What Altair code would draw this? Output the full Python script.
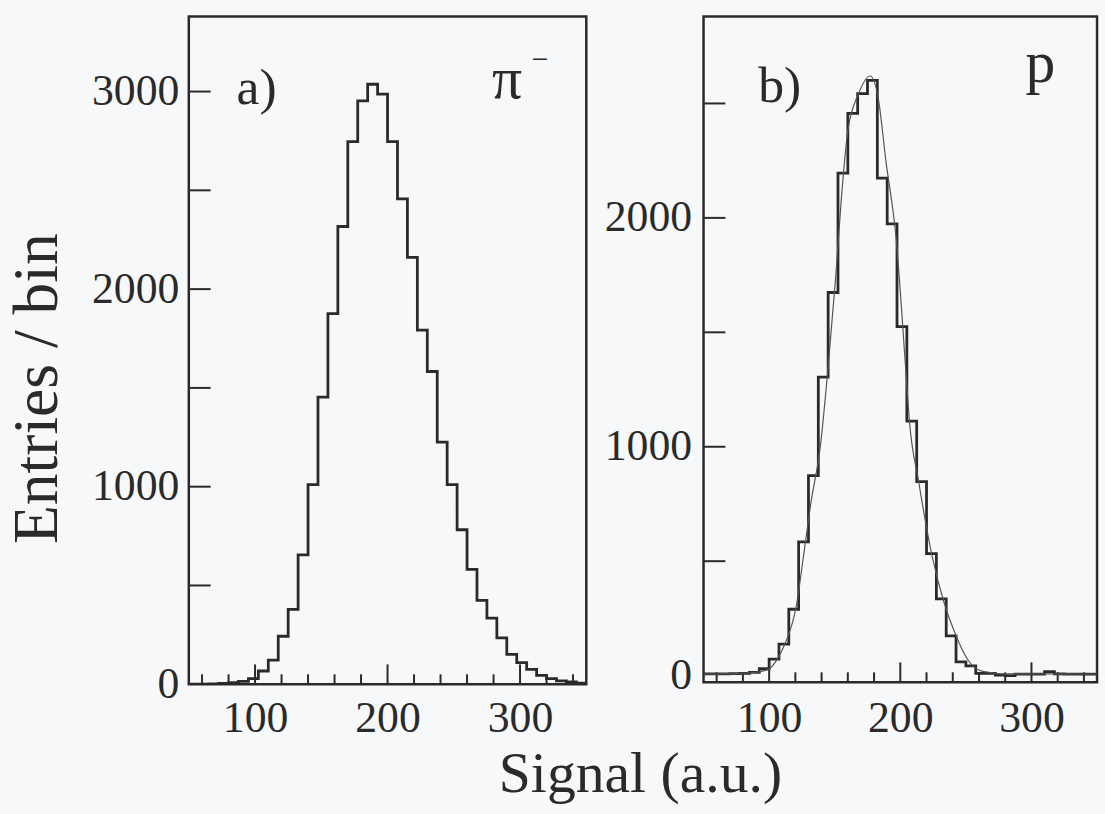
import altair as alt
import pandas as pd

# ---------------- data ----------------
bin_width = 7.5

# panel a) pi-  : bins start at 50
pi_bin_start = 50.0
pi_counts = [0, 1, 2, 4, 8, 15, 28, 67, 122, 243, 379, 655, 1010, 1453, 1876,
             2317, 2747, 2953, 3037, 2987, 2747, 2457, 2161, 1792, 1583, 1225,
             1010, 782, 581, 424, 335, 235, 151, 109, 75, 45, 29, 17, 12, 6]

# panel b) p : bins start at 47.5
p_bin_start = 47.5
p_counts = [8, 8, 8, 9, 10, 14, 30, 72, 138, 290, 584, 874, 1304, 1674, 2196,
            2457, 2543, 2601, 2174, 1974, 1525, 1112, 848, 533, 335, 174, 60,
            43, 10, 10, 2, 0, 7, 7, 7, 17, 8, 7, 7, 7, 7]

# fitted curve in panel b) (points read off the picture)
fit_x = [50, 70, 85, 95, 100, 106, 112, 121, 126, 132, 139, 145, 151, 155,
         160, 168, 177, 183, 189, 197, 204, 207, 214, 224, 233, 242, 252, 262,
         280, 350]
fit_y = [7, 8, 12, 20, 29, 70, 138, 313, 514, 760, 1000, 1350, 1760, 2080,
         2380, 2540, 2620, 2530, 2250, 1900, 1350, 1110, 848, 529, 326, 181,
         65, 20, 8, 7]

x_domain = [50, 350]
y_domain_a = [0, 3380]
y_domain_b = [-29, 2880]

y_labels_a = [0, 1000, 2000, 3000]
y_ticks_a = [500, 1000, 1500, 2000, 2500, 3000]
y_labels_b = [0, 1000, 2000]
y_ticks_b = [500, 1000, 1500, 2000, 2500]
x_labels = [100, 200, 300]
x_major = [100, 200, 300]
x_minor = [60, 80, 120, 140, 160, 180, 220, 240, 260, 280, 320, 340]

labels_a = ["a)", "π", "−"]
labels_b = ["b)", "p"]

y_title = "Entries / bin"
x_title = "Signal (a.u.)"

# ---------------- styling ----------------
FONT = "Liberation Serif"
INK = "#2a2a2a"
BG = "#f7f8fa"


def step_frame(counts, start):
    xs = [start + k * bin_width for k in range(len(counts))]
    xs.append(start + len(counts) * bin_width)
    ys = list(counts) + [counts[-1]]
    return pd.DataFrame({"x": xs, "y": ys})


def panel(counts, start, ydom, ylabels, yticks, w, h, texts, fit=None,
          show_titles=False, xlabpad=13):
    xs = alt.Scale(domain=x_domain, nice=False, zero=False)
    ys = alt.Scale(domain=ydom, nice=False, zero=False)

    common = dict(ticks=False, domain=False, grid=False, format="d",
                  labelFont=FONT, labelFontSize=44, labelColor=INK)
    if show_titles:
        yaxis = alt.Axis(values=ylabels, labelPadding=10,
                         title=y_title, titleFont=FONT,
                         titleFontSize=64, titleFontWeight="normal",
                         titleColor=INK, titleAngle=270, titleAlign="center",
                         titleBaseline="alphabetic", titleX=-133, titleY=374,
                         **common)
        xaxis = alt.Axis(values=x_labels, labelPadding=xlabpad,
                         title=x_title, titleFont=FONT,
                         titleFontSize=58, titleFontWeight="normal",
                         titleColor=INK, titleAlign="center",
                         titleBaseline="alphabetic", titleX=454, titleY=108,
                         labelFlush=False, **common)
    else:
        yaxis = alt.Axis(values=ylabels, labelPadding=12, title=None, **common)
        xaxis = alt.Axis(values=x_labels, labelPadding=xlabpad, title=None,
                         labelFlush=False, **common)

    hist = alt.Chart(step_frame(counts, start)).mark_line(
        interpolate="step-after", color=INK, strokeWidth=2.8, clip=True
    ).encode(
        x=alt.X("x:Q", scale=xs, axis=xaxis),
        y=alt.Y("y:Q", scale=ys, axis=yaxis),
    )

    ytick = alt.Chart(pd.DataFrame({"v": yticks})).mark_rule(
        color=INK, strokeWidth=2
    ).encode(
        y=alt.Y("v:Q", scale=ys),
        x=alt.value(0), x2=alt.value(22),
    )
    xmaj = alt.Chart(pd.DataFrame({"v": x_major})).mark_rule(
        color=INK, strokeWidth=2
    ).encode(
        x=alt.X("v:Q", scale=xs),
        y=alt.value(h), y2=alt.value(h - 20),
    )
    xmin = alt.Chart(pd.DataFrame({"v": x_minor})).mark_rule(
        color=INK, strokeWidth=2
    ).encode(
        x=alt.X("v:Q", scale=xs),
        y=alt.value(h), y2=alt.value(h - 10),
    )

    layers = [hist, ytick, xmaj, xmin]
    if fit is not None:
        fdf = pd.DataFrame({"x": fit[0], "y": fit[1]})
        layers.append(alt.Chart(fdf).mark_line(
            interpolate="monotone", color="#555555", strokeWidth=1.2, clip=True
        ).encode(x=alt.X("x:Q", scale=xs),
                 y=alt.Y("y:Q", scale=ys)))

    for (t, px, py, fs) in texts:
        layers.append(alt.Chart(pd.DataFrame({"t": [t]})).mark_text(
            font=FONT, fontSize=fs, color=INK, align="left",
            baseline="alphabetic"
        ).encode(text="t:N", x=alt.value(px), y=alt.value(py)))

    return alt.layer(*layers).properties(width=w, height=h)


left = panel(pi_counts, pi_bin_start, y_domain_a, y_labels_a, y_ticks_a,
             400, 672,
             [(labels_a[0], 48, 88, 52), (labels_a[1], 305, 82, 60),
              (labels_a[2], 345, 53, 30)],
             show_titles=True, xlabpad=13)
right = panel(p_counts, p_bin_start, y_domain_b, y_labels_b, y_ticks_b,
              396, 670,
              [(labels_b[0], 55, 86, 52), (labels_b[1], 324, 66, 60)],
              fit=(fit_x, fit_y), xlabpad=15)

chart = alt.hconcat(left, right, spacing=118, bounds="flush").properties(
    padding={"left": 4, "top": 12, "right": 6, "bottom": 8}
).configure(background=BG).configure_view(stroke=INK, strokeWidth=2.5)

chart.save("out.html", embed_options={"renderer": "svg", "actions": False})
